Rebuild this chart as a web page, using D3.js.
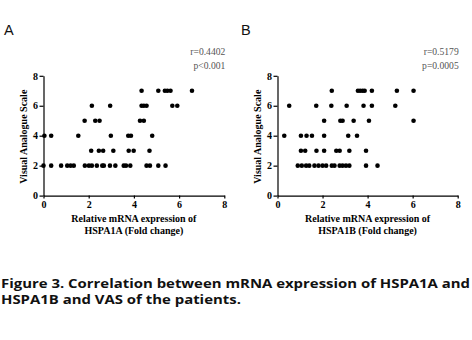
<!DOCTYPE html>
<html>
<head>
<meta charset="utf-8">
<script src="https://cdn.jsdelivr.net/npm/d3@7"></script>
<style>
  html, body { margin: 0; padding: 0; background: #fff; }
  svg { display: block; }
</style>
</head>
<body>
<svg id="fig" width="472" height="340"></svg>
<script>
// HSPA1A fold change vs VAS score (one entry per patient)
const hspa1aFold = [
  0.00, 0.34, 0.78, 1.05, 1.20, 1.34, 1.83, 2.01, 2.14, 2.36, 2.60, 2.67, 2.94, 3.18, 3.55, 3.65, 3.84, 4.56, 4.71, 5.08, 5.40,
  2.11, 2.45, 2.64, 3.09, 3.77, 3.99, 4.69,
  0.04, 0.34, 1.54, 2.98, 3.75, 3.87, 4.81,
  1.82, 2.29, 2.48, 4.27, 4.44,
  2.14, 2.95, 4.34, 4.44, 4.56, 5.70, 5.92,
  4.34, 5.08, 5.37, 5.48, 5.62, 6.57
];
const hspa1aVAS = [
  2, 2, 2, 2, 2, 2, 2, 2, 2, 2, 2, 2, 2, 2, 2, 2, 2, 2, 2, 2, 2,
  3, 3, 3, 3, 3, 3, 3,
  4, 4, 4, 4, 4, 4, 4,
  5, 5, 5, 5, 5,
  6, 6, 6, 6, 6, 6, 6,
  7, 7, 7, 7, 7, 7
];

// HSPA1B fold change vs VAS score
const hspa1bFold = [
  0.90, 1.08, 1.27, 1.41, 1.64, 1.82, 2.00, 2.16, 2.41, 2.53, 2.76, 2.89, 3.04, 3.19, 3.93, 4.44,
  1.04, 1.23, 1.73, 2.07, 2.61, 2.76, 3.19, 3.93,
  0.30, 1.04, 1.29, 1.53, 2.07, 3.14, 3.53,
  2.07, 2.79, 2.89, 3.38, 4.06, 6.04,
  0.52, 1.72, 2.39, 3.07, 3.82, 4.19, 5.23,
  2.41, 3.57, 3.67, 3.78, 3.87, 4.19, 5.30, 6.04
];
const hspa1bVAS = [
  2, 2, 2, 2, 2, 2, 2, 2, 2, 2, 2, 2, 2, 2, 2, 2,
  3, 3, 3, 3, 3, 3, 3, 3,
  4, 4, 4, 4, 4, 4, 4,
  5, 5, 5, 5, 5, 5,
  6, 6, 6, 6, 6, 6, 6,
  7, 7, 7, 7, 7, 7, 7, 7
];

const panelLetters = ["A", "B"];
const genes = ["HSPA1A", "HSPA1B"];
const rStats = ["r=0.4402", "r=0.5179"];
const pStats = ["p<0.001", "p=0.0005"];
const xTicks = [0, 2, 4, 6, 8];
const yTicks = [0, 2, 4, 6, 8];
const yLabel = "Visual Analogue Scale";
const xLabelLine1 = "Relative mRNA expression of";
const captionLines = [
  "Figure 3. Correlation between mRNA expression of HSPA1A and",
  "HSPA1B and VAS of the patients."
];

const svg = d3.select("#fig");
const serif = "'Liberation Serif', 'Times New Roman', serif";

const panels = [
  { x: hspa1aFold, y: hspa1aVAS, left: 43.5, right: 224.3, letterX: 4 },
  { x: hspa1bFold, y: hspa1bVAS, left: 277.5, right: 457.7, letterX: 241 }
];

panels.forEach((p, i) => {
  const xScale = d3.scaleLinear().domain([0, 8]).range([p.left, p.right]);
  const yScale = d3.scaleLinear().domain([0, 8]).range([195.6, 75.8]);
  const g = svg.append("g");

  // panel letter
  g.append("text")
    .attr("x", p.letterX).attr("y", 35)
    .attr("font-family", "'Liberation Sans', Arial, sans-serif")
    .attr("font-size", 14.5)
    .attr("fill", "#111")
    .text(panelLetters[i]);

  // correlation statistics
  const stat = g.append("text")
    .attr("font-family", serif)
    .attr("font-size", 9.6)
    .attr("fill", "#555")
    .attr("text-anchor", "end");
  stat.append("tspan").attr("x", p.right + 1).attr("y", 55).text(rStats[i]);
  stat.append("tspan").attr("x", p.right + 1).attr("y", 68.5).text(pStats[i]);

  // axes
  const xAxis = d3.axisBottom(xScale).tickValues(xTicks).tickSize(3).tickSizeOuter(0).tickPadding(2);
  const yAxis = d3.axisLeft(yScale).tickValues(yTicks).tickSize(4).tickSizeOuter(0).tickPadding(1.5);

  const gx = g.append("g").attr("transform", `translate(0,${yScale(0)})`).call(xAxis);
  const gy = g.append("g").attr("transform", `translate(${p.left},0)`).call(yAxis);

  [gx, gy].forEach(ax => {
    ax.select(".domain").attr("stroke", "#000").attr("stroke-width", 1.2);
    ax.selectAll(".tick line").attr("stroke", "#000").attr("stroke-width", 1.2);
    ax.selectAll(".tick text")
      .attr("font-family", serif)
      .attr("font-weight", "bold")
      .attr("font-size", 10)
      .attr("fill", "#000");
  });

  // y axis title
  g.append("text")
    .attr("transform", `translate(${p.left - 17},${yScale(4) + 1}) rotate(-90)`)
    .attr("text-anchor", "middle")
    .attr("font-family", serif)
    .attr("font-weight", "bold")
    .attr("font-size", 10)
    .attr("fill", "#000")
    .text(yLabel);

  // x axis title (two lines)
  const cx = (p.left + p.right) / 2;
  const xt = g.append("text")
    .attr("text-anchor", "middle")
    .attr("font-family", serif)
    .attr("font-weight", "bold")
    .attr("font-size", 10)
    .attr("fill", "#000");
  xt.append("tspan").attr("x", cx).attr("y", 222).text(xLabelLine1);
  xt.append("tspan").attr("x", cx).attr("y", 234).text(`${genes[i]} (Fold change)`);

  // data points
  g.append("g").selectAll("circle")
    .data(d3.range(p.x.length))
    .join("circle")
    .attr("cx", j => xScale(p.x[j]))
    .attr("cy", j => yScale(p.y[j]))
    .attr("r", 2.3)
    .attr("fill", "#000");
});

// figure caption: two lines, first one spans the page width
const capSize = 11.6;
const capLines = svg.append("g")
  .attr("font-family", "'Open Sans', 'Noto Sans', sans-serif")
  .attr("font-weight", "bold")
  .attr("font-size", capSize)
  .attr("fill", "#111")
  .selectAll("text")
  .data(captionLines)
  .join("text")
  .attr("x", 1)
  .attr("y", (d, k) => 287.6 + k * 16.4)
  .text(d => d);

const natural = capLines.nodes().map(n => n.getComputedTextLength());
const squeeze = natural[0] > 0 ? 469 / natural[0] : 1;
capLines
  .attr("textLength", (d, k) => natural[k] * squeeze)
  .attr("lengthAdjust", "spacingAndGlyphs");
</script>
</body>
</html>
